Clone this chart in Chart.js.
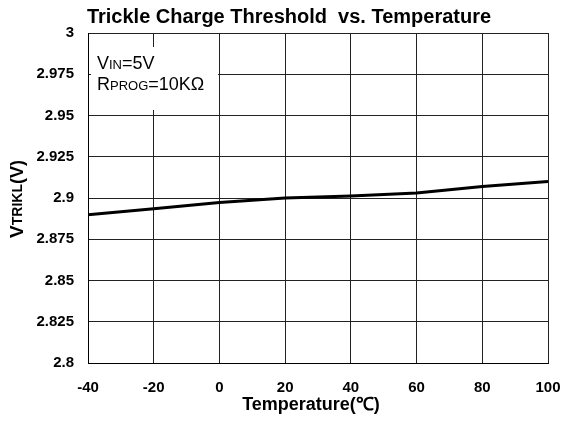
<!DOCTYPE html>
<html><head><meta charset="utf-8">
<script src="https://cdn.jsdelivr.net/npm/chart.js@4"></script>
<style>html,body{margin:0;padding:0;background:#fff;}#wrap{width:566px;height:423px;}</style>
</head><body><div id="wrap"><canvas id="c" width="566" height="423"></canvas></div>
<script>
const titleText = "Trickle Charge Threshold  vs. Temperature";
const xTitle = "Temperature(\u2103)";
const temperatures = [-40, -20, 0, 20, 40, 60, 80, 100];
const vtrikl = [2.8898, 2.8935, 2.8972, 2.9000, 2.9012, 2.9030, 2.9070, 2.9100];
const yTicks = [2.8, 2.825, 2.85, 2.875, 2.9, 2.925, 2.95, 2.975, 3];
const xTicks = [-40, -20, 0, 20, 40, 60, 80, 100];

const F = "'Liberation Sans', Arial, sans-serif";

const deco = {
  id: 'deco',
  afterDraw(chart) {
    const ctx = chart.ctx;
    const a = chart.chartArea;
    ctx.save();
    // title
    ctx.fillStyle = '#000';
    ctx.font = 'bold 20px ' + F;
    ctx.textAlign = 'center';
    ctx.textBaseline = 'middle';
    ctx.fillText(titleText, 289, 17);
    // x title
    ctx.font = 'bold 18px ' + F;
    ctx.fillText(xTitle, 311, 405);
    // annotation box
    ctx.fillStyle = '#fff';
    ctx.fillRect(a.left + 3, 47, 127, 63);
    ctx.fillStyle = '#000';
    ctx.textAlign = 'left';
    ctx.textBaseline = 'alphabetic';
    let x = 97;
    ctx.font = '18px ' + F; ctx.fillText('V', x, 69); x += ctx.measureText('V').width;
    ctx.font = '13px ' + F; ctx.fillText('IN', x, 69); x += ctx.measureText('IN').width;
    ctx.font = '18px ' + F; ctx.fillText('=5V', x, 69);
    x = 97;
    ctx.font = '18px ' + F; ctx.fillText('R', x, 90); x += ctx.measureText('R').width;
    ctx.font = '13px ' + F; ctx.fillText('PROG', x, 90); x += ctx.measureText('PROG').width;
    ctx.font = '18px ' + F; ctx.fillText('=10K\u03A9', x, 90);
    // y title rotated
    ctx.translate(18, 199);
    ctx.rotate(-Math.PI / 2);
    const parts = [['V', 'bold 19px '], ['TRIKL', 'bold 14px '], ['(V)', 'bold 18px ']];
    let w = 0;
    parts.forEach(p => { ctx.font = p[1] + F; w += ctx.measureText(p[0]).width; });
    let px = -w / 2;
    ctx.textBaseline = 'middle';
    parts.forEach(p => { ctx.font = p[1] + F; ctx.fillText(p[0], px, 0); px += ctx.measureText(p[0]).width; });
    ctx.restore();
  }
};

new Chart(document.getElementById('c'), {
  type: 'line',
  data: {
    datasets: [{
      data: temperatures.map((t, i) => ({x: t, y: vtrikl[i]})),
      borderColor: '#000',
      borderWidth: 3,
      pointRadius: 0,
      tension: 0,
      fill: false
    }]
  },
  options: {
    responsive: false,
    animation: false,
    layout: {padding: {left: 0, right: 18, top: 33, bottom: 0}, autoPadding: false},
    plugins: {legend: {display: false}, tooltip: {enabled: false}, title: {display: false}},
    scales: {
      x: {
        type: 'linear', min: -40, max: 100,
        afterBuildTicks: s => { s.ticks = xTicks.map(v => ({value: v})); },
        afterFit: s => { s.height = 60; s.paddingLeft = 0; s.paddingRight = 0; },
        grid: {color: '#222', lineWidth: 1, drawTicks: false},
        border: {color: '#000', width: 1},
        ticks: {color: '#000', font: {family: F, size: 15, weight: 'bold'}, padding: 16, maxRotation: 0,
          callback: v => String(v)}
      },
      y: {
        type: 'linear', min: 2.8, max: 3,
        afterBuildTicks: s => { s.ticks = yTicks.map(v => ({value: v})); },
        afterFit: s => { s.width = 88; s.paddingTop = 0; s.paddingBottom = 0; },
        grid: {color: '#222', lineWidth: 1, drawTicks: false},
        border: {color: '#000', width: 1},
        ticks: {color: '#000', font: {family: F, size: 15, weight: 'bold'}, padding: 14,
          callback: v => String(parseFloat(Number(v).toFixed(3)))}
      }
    }
  },
  plugins: [deco]
});
</script>
</body></html>
